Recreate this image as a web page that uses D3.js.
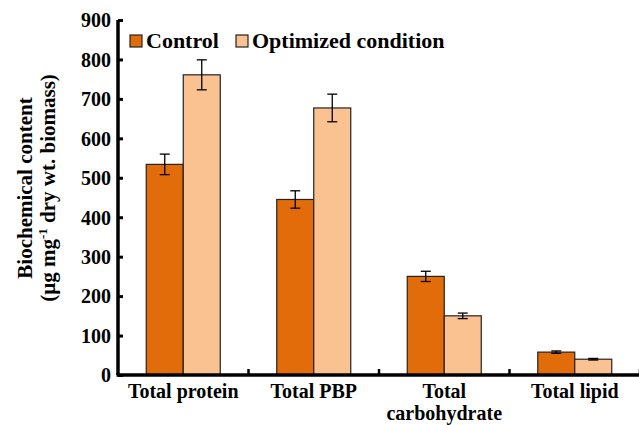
<!DOCTYPE html>
<html>
<head>
<meta charset="utf-8">
<script src="https://cdn.jsdelivr.net/npm/d3@7"></script>
<style>
  body { margin: 0; background: #fff; }
</style>
</head>
<body>
<div id="chart"></div>
<script>
var categories = ["Total protein", "Total PBP", "Total\ncarbohydrate", "Total lipid"];
var seriesNames = ["Control", "Optimized condition"];
var control = [534, 445, 250, 58];
var controlErr = [26, 22, 13, 3];
var optimized = [761, 677, 150, 40];
var optimizedErr = [38, 35, 7, 2];
var yTicks = [0, 100, 200, 300, 400, 500, 600, 700, 800, 900];
var colors = ["#E36C0A", "#FAC191"];

var FONT = "'Liberation Serif', 'Times New Roman', serif";
var W = 639, H = 425;
var margin = {top: 20, right: 0, bottom: 50, left: 118};
var width = W - margin.left - margin.right,
    height = H - margin.top - margin.bottom;

var svg = d3.select("#chart").append("svg")
    .attr("width", W).attr("height", H)
    .attr("font-family", FONT).attr("font-weight", "bold");
var g = svg.append("g")
    .attr("transform", "translate(" + margin.left + "," + margin.top + ")");

var x0 = d3.scaleBand().domain(categories).range([0, width + 1]);
var x1 = d3.scaleBand().domain(seriesNames).range([0, 74]);
var y = d3.scaleLinear().domain([0, 900]).range([height, 0]);

var data = categories.map(function(c, i) {
    return [
        {cat: c, s: seriesNames[0], v: control[i], e: controlErr[i]},
        {cat: c, s: seriesNames[1], v: optimized[i], e: optimizedErr[i]}
    ];
});

var groups = g.selectAll(".grp").data(data).enter().append("g")
    .attr("transform", function(d) { return "translate(" + (x0(d[0].cat) + (x0.bandwidth() - 74) / 2) + ",0)"; });

groups.selectAll("rect").data(function(d) { return d; }).enter().append("rect")
    .attr("x", function(d) { return x1(d.s); })
    .attr("y", function(d) { return y(d.v); })
    .attr("width", x1.bandwidth())
    .attr("height", function(d) { return height - y(d.v); })
    .attr("fill", function(d, i) { return colors[i]; })
    .attr("stroke", "#222").attr("stroke-width", 1.2);

// error bars
var eb = groups.selectAll(".eb").data(function(d) { return d; }).enter().append("g")
    .attr("transform", function(d) { return "translate(" + (x1(d.s) + x1.bandwidth() / 2) + ",0)"; })
    .attr("stroke", "#000").attr("stroke-width", 1.3);
eb.append("line").attr("y1", function(d) { return y(d.v + d.e); }).attr("y2", function(d) { return y(d.v - d.e); });
eb.append("line").attr("x1", -5).attr("x2", 5).attr("y1", function(d) { return y(d.v + d.e); }).attr("y2", function(d) { return y(d.v + d.e); });
eb.append("line").attr("x1", -5).attr("x2", 5).attr("y1", function(d) { return y(d.v - d.e); }).attr("y2", function(d) { return y(d.v - d.e); });

// y axis, ticks pointing inward
var yAxis = g.append("g").call(d3.axisLeft(y).tickValues(yTicks).tickSize(-5).tickPadding(7));
yAxis.attr("font-family", FONT).attr("font-size", 20).attr("font-weight", "bold");
yAxis.select(".domain").attr("stroke-width", 3.5).attr("d", "M0,0V" + height);
yAxis.selectAll(".tick line").attr("stroke-width", 3);
yAxis.selectAll(".tick text").attr("dy", "0.34em");

// x axis
var xAxis = g.append("g").attr("transform", "translate(0," + height + ")");
xAxis.append("line").attr("x1", -1.5).attr("x2", width).attr("stroke", "#000").attr("stroke-width", 3.5);
xAxis.selectAll(".xt").data(categories.slice(1).concat(["end"])).enter().append("line")
    .attr("x1", function(d, i) { return x0.step() * (i + 1); })
    .attr("x2", function(d, i) { return x0.step() * (i + 1); })
    .attr("y1", 0).attr("y2", -6).attr("stroke", "#000").attr("stroke-width", 2.5);
var xl = xAxis.selectAll(".xl").data(categories).enter().append("text")
    .attr("x", function(d) { return x0(d) + x0.bandwidth() / 2; })
    .attr("y", 23)
    .attr("text-anchor", "middle")
    .attr("font-size", 20);
xl.selectAll("tspan").data(function(d) { return d.split("\n"); }).enter().append("tspan")
    .attr("x", function() { return d3.select(this.parentNode).attr("x"); })
    .attr("dy", function(d, i) { return i ? 22 : 0; })
    .text(function(d) { return d; });

// y title
var yt = svg.append("text").attr("transform", "translate(32,188) rotate(-90)")
    .attr("text-anchor", "middle").attr("font-size", 21);
yt.append("tspan").attr("x", 0).attr("dy", 0).text("Biochemical content");
var l2 = yt.append("tspan").attr("x", 0).attr("dy", 23);
l2.append("tspan").text("(µg mg");
l2.append("tspan").attr("dy", -8).attr("font-size", 13).text("-1");
l2.append("tspan").attr("dy", 8).text(" dry wt. biomass)");

// legend
var leg = svg.append("g").attr("transform", "translate(130,35)");
var lx = [0, 106];
seriesNames.forEach(function(s, i) {
    leg.append("rect").attr("x", lx[i]).attr("y", 0).attr("width", 12).attr("height", 12)
        .attr("fill", colors[i]).attr("stroke", "#222").attr("stroke-width", 1.2);
    leg.append("text").attr("x", lx[i] + 16).attr("y", 13).attr("font-size", 22).text(s);
});
</script>
</body>
</html>
